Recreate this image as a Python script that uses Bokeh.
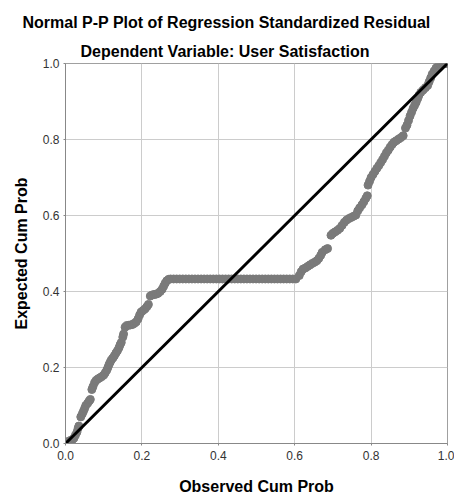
from bokeh.plotting import figure
from bokeh.models import Title, FixedTicker, ColumnDataSource
from bokeh.embed import file_html
from bokeh.resources import INLINE

main_title = "Normal P-P Plot of Regression Standardized Residual"
sub_title = "Dependent Variable: User Satisfaction"
x_label = "Observed Cum Prob"
y_label = "Expected Cum Prob"
tick_values = [0.0, 0.2, 0.4, 0.6, 0.8, 1.0]
tick_labels = ["0.0", "0.2", "0.4", "0.6", "0.8", "1.0"]

# Observed cumulative probability (x) of each residual point
observed_cum_prob = [
    0.003, 0.008, 0.013, 0.018, 0.022, 0.026, 0.030, 0.033, 0.035,
    0.040, 0.044, 0.047, 0.050, 0.053, 0.058, 0.062, 0.065,
    0.069, 0.072, 0.076, 0.080, 0.085, 0.090, 0.095, 0.100, 0.104, 0.108, 0.111,
    0.114, 0.117, 0.120, 0.124, 0.128, 0.132, 0.136, 0.140, 0.143, 0.146,
    0.150, 0.152,
    0.156, 0.160, 0.165, 0.170, 0.175, 0.180, 0.185, 0.190, 0.194, 0.198, 0.203,
    0.208, 0.213, 0.217,
    0.222, 0.227, 0.232, 0.237, 0.242, 0.248, 0.253, 0.257, 0.261, 0.265, 0.270,
    0.275, 0.283, 0.291, 0.299, 0.307, 0.315, 0.323, 0.331, 0.339, 0.347, 0.355,
    0.363, 0.371, 0.379, 0.387, 0.395, 0.403, 0.411, 0.419, 0.427, 0.435, 0.443,
    0.451, 0.459, 0.467, 0.475, 0.483, 0.491, 0.499, 0.507, 0.515, 0.523, 0.531,
    0.539, 0.547, 0.555, 0.563, 0.571, 0.579, 0.587, 0.595, 0.603,
    0.612, 0.617, 0.622, 0.628, 0.634, 0.640, 0.646, 0.652, 0.658, 0.663, 0.668, 0.672,
    0.680, 0.686,
    0.695, 0.700, 0.706, 0.712, 0.718, 0.724, 0.730, 0.736, 0.742, 0.748, 0.754, 0.760,
    0.765, 0.770, 0.776, 0.781, 0.786, 0.790,
    0.792, 0.796, 0.800, 0.805, 0.810, 0.815, 0.820, 0.825, 0.830, 0.835, 0.840,
    0.845, 0.850, 0.855, 0.860, 0.866, 0.872, 0.878, 0.884,
    0.890, 0.894, 0.898, 0.902, 0.906, 0.910, 0.914, 0.918, 0.922, 0.925, 0.930,
    0.936, 0.942, 0.948, 0.952, 0.956, 0.960, 0.965, 0.970, 0.976, 0.982, 0.988,
    0.994, 0.999,
]

# Expected cumulative probability (y) of each residual point
expected_cum_prob = [
    0.002, 0.006, 0.008, 0.010, 0.014, 0.022, 0.030, 0.040, 0.046,
    0.070, 0.078, 0.085, 0.092, 0.100, 0.106, 0.112, 0.116,
    0.142, 0.150, 0.160, 0.166, 0.170, 0.173, 0.176, 0.180, 0.186, 0.193, 0.200,
    0.208, 0.214, 0.220, 0.225, 0.231, 0.238, 0.244, 0.252, 0.260, 0.266,
    0.280, 0.288,
    0.306, 0.310, 0.311, 0.312, 0.313, 0.316, 0.320, 0.328, 0.338, 0.346, 0.350,
    0.354, 0.360, 0.366,
    0.388, 0.391, 0.392, 0.393, 0.395, 0.400, 0.406, 0.414, 0.422, 0.428, 0.432,
    0.433, 0.433, 0.433, 0.433, 0.433, 0.433, 0.433, 0.433, 0.433, 0.433, 0.433,
    0.433, 0.433, 0.433, 0.433, 0.433, 0.433, 0.433, 0.433, 0.433, 0.433, 0.433,
    0.433, 0.433, 0.433, 0.433, 0.433, 0.433, 0.433, 0.433, 0.433, 0.433, 0.433,
    0.433, 0.433, 0.433, 0.433, 0.433, 0.433, 0.433, 0.433, 0.433,
    0.442, 0.452, 0.459, 0.462, 0.466, 0.470, 0.474, 0.477, 0.481, 0.487, 0.495, 0.503,
    0.510, 0.513,
    0.548, 0.553, 0.557, 0.561, 0.566, 0.574, 0.582, 0.588, 0.592, 0.595, 0.598, 0.601,
    0.612, 0.620, 0.628, 0.636, 0.645, 0.652,
    0.680, 0.690, 0.700, 0.708, 0.716, 0.724, 0.731, 0.739, 0.747, 0.756, 0.765,
    0.772, 0.780, 0.787, 0.793, 0.797, 0.801, 0.805, 0.810,
    0.830, 0.838, 0.850, 0.862, 0.872, 0.882, 0.890, 0.898, 0.908, 0.916, 0.924,
    0.930, 0.936, 0.942, 0.952, 0.962, 0.972, 0.980, 0.988, 0.994, 0.998, 0.999,
    1.000, 1.000,
]

# Reference (diagonal) line
ref_x = [0.0, 1.0]
ref_y = [0.0, 1.0]

FONT = "Liberation Sans"

p = figure(width=454, height=497, x_range=(0, 1), y_range=(0, 1),
           output_backend="svg", toolbar_location=None,
           min_border_left=65, min_border_right=7, min_border_top=63, min_border_bottom=51)
p.title = None
p.background_fill_color = "white"
p.border_fill_color = "white"
p.outline_line_color = "#a0a0a0"
p.outline_line_width = 1

sub = Title(text=sub_title, align="left", offset=15, text_font=FONT,
            text_font_size="16px", text_font_style="bold", text_color="#000000", standoff=7)
p.add_layout(sub, "above")
main = Title(text=main_title, align="left", offset=-43, text_font=FONT,
             text_font_size="16px", text_font_style="bold", text_color="#000000", standoff=13)
p.add_layout(main, "above")

src = ColumnDataSource(dict(x=observed_cum_prob, y=expected_cum_prob))
p.scatter("x", "y", source=src, size=8, fill_color="#7a7a7a", line_color="#7a7a7a")
p.line(ref_x, ref_y, line_color="#000000", line_width=3)

for ax in (p.xaxis[0], p.yaxis[0]):
    ax.ticker = FixedTicker(ticks=tick_values)
    ax.major_label_overrides = {v: l for v, l in zip(tick_values, tick_labels)}
    ax.axis_line_color = "#888888"
    ax.major_tick_line_color = "#888888"
    ax.major_tick_out = 2
    ax.major_tick_in = 0
    ax.minor_tick_line_color = None
    ax.major_label_text_font = FONT
    ax.major_label_text_font_size = "12px"
    ax.major_label_text_color = "#333333"
    ax.axis_label_text_font = FONT
    ax.axis_label_text_font_size = "16px"
    ax.axis_label_text_font_style = "bold"
    ax.axis_label_text_color = "#000000"

p.xaxis.axis_label = x_label
p.yaxis.axis_label = y_label
p.xaxis.major_label_standoff = 5
p.yaxis.major_label_standoff = 4
p.xaxis.axis_label_standoff = 15
p.yaxis.axis_label_standoff = 10

p.xgrid.ticker = FixedTicker(ticks=tick_values)
p.ygrid.ticker = FixedTicker(ticks=tick_values)
p.xgrid.grid_line_color = "#cccccc"
p.ygrid.grid_line_color = "#cccccc"
p.xgrid.grid_line_width = 1
p.ygrid.grid_line_width = 1

open("out.html", "w").write(file_html(p, INLINE))
